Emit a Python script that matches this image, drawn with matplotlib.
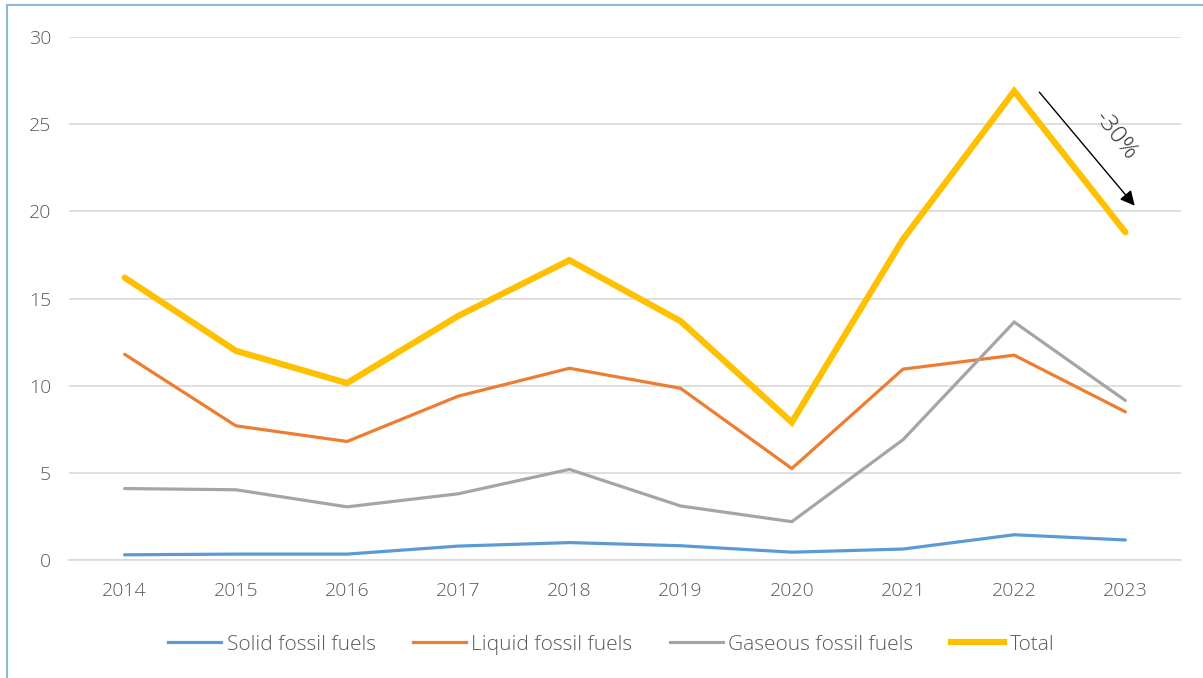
import matplotlib.pyplot as plt
from matplotlib.lines import Line2D

years = [2014, 2015, 2016, 2017, 2018, 2019, 2020, 2021, 2022, 2023]
solid = [0.30, 0.34, 0.34, 0.80, 1.00, 0.82, 0.45, 0.63, 1.45, 1.15]
liquid = [11.8, 7.7, 6.8, 9.4, 11.0, 9.85, 5.25, 10.95, 11.75, 8.5]
gaseous = [4.1, 4.03, 3.05, 3.8, 5.2, 3.1, 2.2, 6.9, 13.65, 9.15]
total = [16.2, 12.0, 10.15, 14.0, 17.2, 13.7, 7.9, 18.4, 26.9, 18.8]

series = [
    ("Solid fossil fuels", solid, "#5B9BD5", 2.3),
    ("Liquid fossil fuels", liquid, "#ED7D31", 2.3),
    ("Gaseous fossil fuels", gaseous, "#A5A5A5", 2.3),
    ("Total", total, "#FFC000", 4.5),
]

plt.rcParams["font.family"] = ["Open Sans", "DejaVu Sans"]
plt.rcParams["font.weight"] = "light"
text_color = "#595959"

fig = plt.figure(figsize=(12.03, 6.78), dpi=100)
ax = fig.add_axes([0.0574, 0.174, 0.9243, 0.7714])

for name, vals, color, lw in series:
    ax.plot(years, vals, color=color, linewidth=lw, label=name,
            solid_capstyle="round", solid_joinstyle="miter")

ax.set_xlim(2013.5, 2023.5)
ax.set_ylim(0, 30)
ax.set_yticks(range(0, 31, 5))
ax.set_xticks(years)
ax.grid(axis="y", color="#D9D9D9", linewidth=1.2)
ax.set_axisbelow(True)
for side in ["top", "right", "left"]:
    ax.spines[side].set_visible(False)
ax.spines["bottom"].set_color("#D9D9D9")
ax.spines["bottom"].set_linewidth(1.2)
ax.tick_params(length=0, labelsize=14, colors=text_color)
ax.tick_params(axis="x", pad=16)
ax.tick_params(axis="y", pad=13)

# -30% arrow between 2022 and 2023
ax.annotate("", xy=(2023.1, 20.2), xytext=(2022.21, 26.96),
            arrowprops=dict(arrowstyle="-|>", color="black", lw=1.0,
                            mutation_scale=22))
ax.text(2022.91, 24.3, "-30%", rotation=-52, ha="center", va="center",
        fontsize=17.5, color="#333333")

handles = [Line2D([0], [0], color=c, linewidth=lw) for _, _, c, lw in series]
labels = [n for n, _, _, _ in series]
fig.legend(handles, labels, loc="center", bbox_to_anchor=(0.508, 0.049),
           ncol=4, frameon=False, fontsize=15, labelcolor=text_color,
           handlelength=2.55, handletextpad=0.25, columnspacing=1.8)

# light frame on the left and top edges
fig.add_artist(Line2D([0.006, 0.006], [0, 0.993], color="#8DB8D6", lw=1.5,
                      transform=fig.transFigure))
fig.add_artist(Line2D([0.006, 1.0], [0.993, 0.993], color="#8DB8D6", lw=1.5,
                      transform=fig.transFigure))

fig.savefig("out.png", dpi=100)
